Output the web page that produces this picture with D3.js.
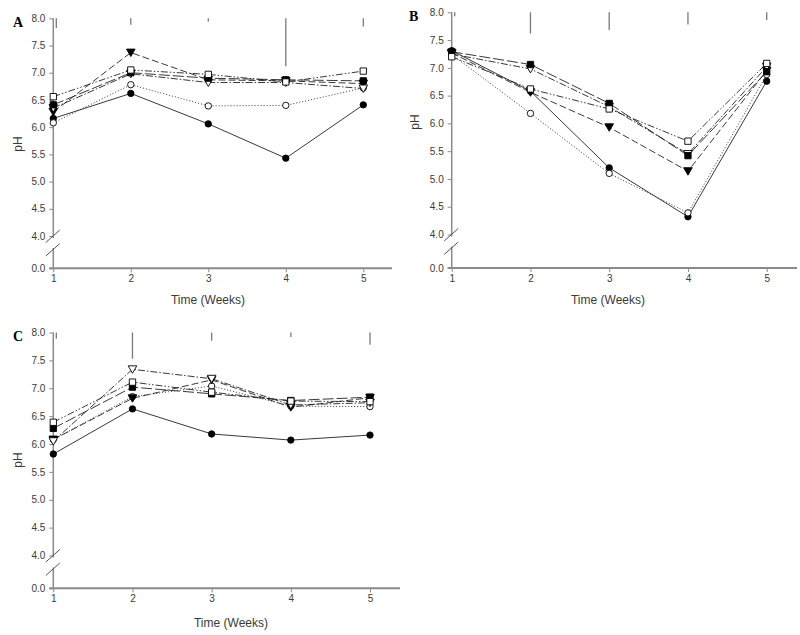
<!DOCTYPE html>
<html>
<head>
<meta charset="utf-8">
<script src="https://cdn.jsdelivr.net/npm/d3@7"></script>
<style>
  body { margin: 0; background: #fff; }
  svg { display: block; }
</style>
</head>
<body>
<script>
// ---------------- DATA ----------------
const weeks = [1, 2, 3, 4, 5];
const yTickValues = [0.0, 4.0, 4.5, 5.0, 5.5, 6.0, 6.5, 7.0, 7.5, 8.0];
const panelLabels = ["A", "B", "C"];
const xTitle = "Time (Weeks)";
const yTitle = "pH";

// Panel A
const A_filledCircle   = [6.16, 6.62, 6.06, 5.43, 6.41];
const A_openCircle     = [6.08, 6.78, 6.39, 6.40, 6.72];
const A_filledTriangle = [6.28, 7.37, 6.87, 6.85, 6.80];
const A_openTriangle   = [6.35, 6.98, 6.82, 6.82, 6.71];
const A_filledSquare   = [6.41, 7.00, 6.90, 6.87, 6.85];
const A_openSquare     = [6.56, 7.05, 6.97, 6.83, 7.03];
const A_errorBars      = [0.18, 0.12, 0.06, 0.88, 0.15];

// Panel B
const B_filledCircle   = [7.31, 6.58, 5.20, 4.32, 6.76];
const B_openCircle     = [7.24, 6.18, 5.10, 4.39, 6.88];
const B_filledTriangle = [7.27, 6.56, 5.93, 5.14, 6.95];
const B_openTriangle   = [7.25, 6.98, 6.30, 5.45, 7.02];
const B_filledSquare   = [7.29, 7.06, 6.36, 5.42, 6.93];
const B_openSquare     = [7.20, 6.62, 6.26, 5.68, 7.08];
const B_errorBars      = [0.07, 0.38, 0.32, 0.22, 0.14];

// Panel C
const C_filledCircle   = [5.82, 6.63, 6.18, 6.07, 6.16];
const C_openCircle     = [6.08, 6.85, 7.04, 6.68, 6.67];
const C_filledTriangle = [6.08, 6.82, 7.15, 6.66, 6.83];
const C_openTriangle   = [6.05, 7.34, 7.17, 6.70, 6.74];
const C_filledSquare   = [6.28, 7.02, 6.90, 6.78, 6.84];
const C_openSquare     = [6.39, 7.11, 6.93, 6.77, 6.76];
const C_errorBars      = [0.11, 0.47, 0.15, 0.08, 0.22];

// ---------------- STYLES / LAYOUT ----------------
const seriesStyles = [
  { symbol: d3.symbolCircle,   size: 32, fill: "#000", dash: null,              rot: 0 },
  { symbol: d3.symbolCircle,   size: 32, fill: "#fff", dash: "1,2",             rot: 0 },
  { symbol: d3.symbolTriangle, size: 32, fill: "#000", dash: "7,3",             rot: 180 },
  { symbol: d3.symbolTriangle, size: 32, fill: "#fff", dash: "7,2,1.5,2",       rot: 180 },
  { symbol: d3.symbolSquare,   size: 40, fill: "#000", dash: "11,3",            rot: 0 },
  { symbol: d3.symbolSquare,   size: 40, fill: "#fff", dash: "7,2,1.5,2,1.5,2", rot: 0 }
];

const panels = [
  { label: panelLabels[0], series: [A_filledCircle, A_openCircle, A_filledTriangle, A_openTriangle, A_filledSquare, A_openSquare], err: A_errorBars,
    xa: 53.3, xb: 363.3, xEnd: 392, y0: 268.3, y4: 236, y8: 18.3,
    labelPos: [13, 27], xTitlePos: [208, 304], yTitlePos: [18, 144] },
  { label: panelLabels[1], series: [B_filledCircle, B_openCircle, B_filledTriangle, B_openTriangle, B_filledSquare, B_openSquare], err: B_errorBars,
    xa: 451.7, xb: 766.7, xEnd: 797, y0: 268, y4: 234.5, y8: 12.3,
    labelPos: [409, 21], xTitlePos: [608, 304], yTitlePos: [415, 122] },
  { label: panelLabels[2], series: [C_filledCircle, C_openCircle, C_filledTriangle, C_openTriangle, C_filledSquare, C_openSquare], err: C_errorBars,
    xa: 53.3, xb: 370, xEnd: 400, y0: 588.3, y4: 555.5, y8: 332.5,
    labelPos: [13, 341], xTitlePos: [231, 627], yTitlePos: [18, 460] }
];

const svg = d3.select("body").append("svg").attr("width", 800).attr("height", 635);

const axisColor = "#8a8a8a";
const textColor = "#3a3a3a";
const font = "Arial, 'Liberation Sans', sans-serif";

panels.forEach(p => {
  const g = svg.append("g");
  const x = d3.scaleLinear().domain([1, 5]).range([p.xa, p.xb]);
  const y = d3.scaleLinear().domain([0, 4, 8]).range([p.y0, p.y4, p.y8]);

  // error bars (drawn hanging from the top); first one nudged off the axis line
  g.selectAll(".err").data(weeks).enter().append("line")
    .attr("x1", (d, i) => x(d) + (i === 0 ? 3 : 0)).attr("x2", (d, i) => x(d) + (i === 0 ? 3 : 0))
    .attr("y1", y(8)).attr("y2", (d, i) => y(8 - p.err[i]))
    .attr("stroke", "#7a7a7a").attr("stroke-width", 1.3);

  // y axis
  const yAxis = d3.axisLeft(y).tickValues(yTickValues).tickFormat(d3.format(".1f")).tickSize(4).tickPadding(4);
  const ya = g.append("g").attr("transform", `translate(${p.xa},0)`).call(yAxis);
  ya.select(".domain").remove();
  ya.selectAll(".tick line").attr("stroke", axisColor);
  ya.selectAll(".tick text").attr("fill", textColor).style("font-family", font).style("font-size", "10px");

  // broken y-axis line
  g.append("line").attr("x1", p.xa).attr("x2", p.xa).attr("y1", y(8)).attr("y2", y(4) + 2)
    .attr("stroke", axisColor).attr("stroke-width", 1.5);
  g.append("line").attr("x1", p.xa).attr("x2", p.xa).attr("y1", y(4) + 12).attr("y2", y(0))
    .attr("stroke", axisColor).attr("stroke-width", 1.5);
  [0, 13.5].forEach(off => {
    g.append("line")
      .attr("x1", p.xa - 7.5).attr("y1", y(4) + 6.5 + off)
      .attr("x2", p.xa + 6.5).attr("y2", y(4) - 6 + off)
      .attr("stroke", "#555").attr("stroke-width", 1);
  });

  // x axis
  const xAxis = d3.axisBottom(x).tickValues(weeks).tickFormat(d3.format("d")).tickSize(4).tickPadding(3);
  const xa = g.append("g").attr("transform", `translate(0,${y(0)})`).call(xAxis);
  xa.select(".domain").remove();
  xa.selectAll(".tick line").attr("stroke", axisColor);
  xa.selectAll(".tick text").attr("fill", textColor).style("font-family", font).style("font-size", "10px");
  g.append("line").attr("x1", p.xa - 4).attr("x2", p.xEnd).attr("y1", y(0)).attr("y2", y(0))
    .attr("stroke", axisColor).attr("stroke-width", 2);

  // titles
  g.append("text").attr("x", p.xTitlePos[0]).attr("y", p.xTitlePos[1])
    .attr("text-anchor", "middle").attr("fill", textColor)
    .style("font-family", font).style("font-size", "12px").text(xTitle);
  g.append("text").attr("transform", `translate(${p.yTitlePos[0] + 4},${p.yTitlePos[1]}) rotate(-90)`)
    .attr("text-anchor", "middle").attr("fill", textColor)
    .style("font-family", font).style("font-size", "12px").text(yTitle);
  g.append("text").attr("x", p.labelPos[0]).attr("y", p.labelPos[1])
    .attr("fill", "#000").style("font-family", "'Liberation Serif', 'Times New Roman', serif")
    .style("font-weight", "bold").style("font-size", "14px").text(p.label);

  // lines
  const line = d3.line().x((d, i) => x(weeks[i])).y(d => y(d));
  p.series.forEach((s, k) => {
    const st = seriesStyles[k];
    g.append("path").datum(s).attr("d", line)
      .attr("fill", "none").attr("stroke", "#222").attr("stroke-width", 0.9)
      .attr("stroke-dasharray", st.dash);
  });
  // markers
  p.series.forEach((s, k) => {
    const st = seriesStyles[k];
    const sym = d3.symbol().type(st.symbol).size(st.size);
    g.selectAll(null).data(s).enter().append("path")
      .attr("d", sym)
      .attr("transform", (d, i) => `translate(${x(weeks[i])},${y(d) + (st.rot ? -1 : 0)}) rotate(${st.rot})`)
      .attr("fill", st.fill).attr("stroke", "#000").attr("stroke-width", 0.9);
  });
});
</script>
</body>
</html>
